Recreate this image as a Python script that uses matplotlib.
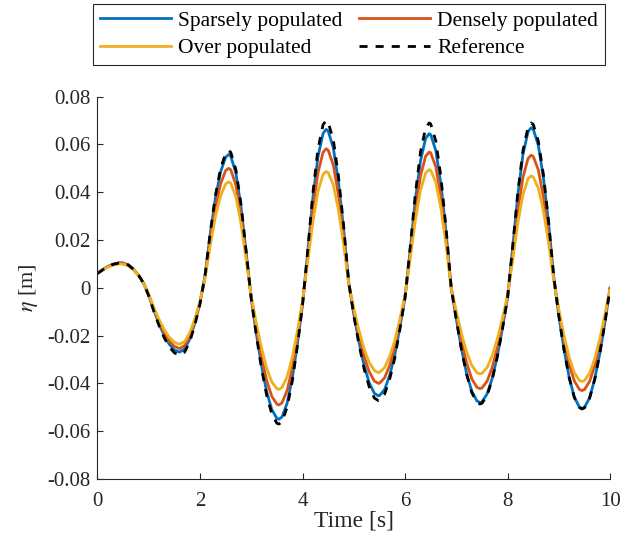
import numpy as np
import matplotlib
matplotlib.use("Agg")
import matplotlib.pyplot as plt

# time samples [s]
t = [0.0, 0.1, 0.2, 0.3, 0.4, 0.45, 0.5, 0.6, 0.7, 0.8, 0.9,
     1.0, 1.1, 1.2, 1.3, 1.4, 1.5, 1.6, 1.7, 1.8, 1.9, 2.0,
     2.1, 2.2, 2.3, 2.4, 2.5, 2.56, 2.6, 2.7, 2.8, 2.9,
     3.0, 3.1, 3.2, 3.3, 3.4, 3.5, 3.54, 3.6, 3.7, 3.8, 3.9, 4.0,
     4.1, 4.2, 4.3, 4.4, 4.46, 4.5, 4.6, 4.7, 4.8, 4.9,
     5.0, 5.1, 5.2, 5.3, 5.4, 5.48, 5.5, 5.6, 5.7, 5.8, 5.9, 6.0,
     6.1, 6.2, 6.3, 6.4, 6.47, 6.5, 6.6, 6.7, 6.8, 6.9,
     7.0, 7.1, 7.2, 7.3, 7.4, 7.46, 7.5, 7.6, 7.7, 7.8, 7.9, 8.0,
     8.1, 8.2, 8.3, 8.4, 8.46, 8.5, 8.6, 8.7, 8.8, 8.9,
     9.0, 9.1, 9.2, 9.3, 9.4, 9.45, 9.5, 9.6, 9.7, 9.8, 9.9, 10.0]

# surface elevation eta [m]
eta_ref = [0.0060, 0.0075, 0.0088, 0.0098, 0.0103, 0.0105, 0.0104, 0.0096, 0.0078, 0.0053, 0.0019,
           -0.0034, -0.0099, -0.0158, -0.0208, -0.0247, -0.0272, -0.0282, -0.0269, -0.0225, -0.0155, -0.0067,
           0.0055, 0.0232, 0.0386, 0.0498, 0.0563, 0.0574, 0.0567, 0.0494, 0.0348, 0.0153,
           -0.0047, -0.0201, -0.0338, -0.0450, -0.0528, -0.0567, -0.0570, -0.0560, -0.0499, -0.0390, -0.0243, -0.0071,
           0.0155, 0.0394, 0.0579, 0.0683, 0.0700, 0.0693, 0.0619, 0.0468, 0.0263, 0.0025,
           -0.0116, -0.0236, -0.0338, -0.0414, -0.0461, -0.0472, -0.0471, -0.0445, -0.0382, -0.0293, -0.0171, -0.0041,
           0.0170, 0.0393, 0.0567, 0.0669, 0.0690, 0.0686, 0.0614, 0.0462, 0.0248, 0.0,
           -0.0134, -0.0258, -0.0362, -0.0438, -0.0479, -0.0486, -0.0483, -0.0450, -0.0384, -0.0288, -0.0171, -0.0040,
           0.0175, 0.0401, 0.0575, 0.0673, 0.0690, 0.0684, 0.0613, 0.0471, 0.0276, 0.0047,
           -0.0119, -0.0258, -0.0375, -0.0458, -0.0501, -0.0507, -0.0502, -0.0461, -0.0383, -0.0274, -0.0143, 0.0]

eta_sparse = [0.0061, 0.0076, 0.0089, 0.0099, 0.0104, 0.0105, 0.0104, 0.0096, 0.0078, 0.0053, 0.0019,
              -0.0032, -0.0094, -0.0151, -0.0199, -0.0236, -0.0260, -0.0269, -0.0256, -0.0215, -0.0147, -0.0063,
              0.0054, 0.0226, 0.0375, 0.0484, 0.0547, 0.0558, 0.0551, 0.0480, 0.0338, 0.0148,
              -0.0046, -0.0194, -0.0326, -0.0435, -0.0509, -0.0547, -0.0550, -0.0540, -0.0482, -0.0377, -0.0234, -0.0069,
              0.0147, 0.0373, 0.0548, 0.0646, 0.0663, 0.0656, 0.0586, 0.0444, 0.0249, 0.0023,
              -0.0111, -0.0226, -0.0324, -0.0397, -0.0441, -0.0452, -0.0451, -0.0426, -0.0366, -0.0280, -0.0164, -0.0039,
              0.0159, 0.0368, 0.0530, 0.0625, 0.0645, 0.0641, 0.0574, 0.0432, 0.0232, 0.0,
              -0.0132, -0.0255, -0.0358, -0.0432, -0.0473, -0.0480, -0.0477, -0.0444, -0.0379, -0.0285, -0.0169, -0.0040,
              0.0170, 0.0389, 0.0559, 0.0654, 0.0670, 0.0664, 0.0596, 0.0458, 0.0268, 0.0046,
              -0.0119, -0.0257, -0.0373, -0.0457, -0.0499, -0.0505, -0.0500, -0.0460, -0.0381, -0.0273, -0.0142, 0.0]

eta_dense = [0.0061, 0.0076, 0.0088, 0.0098, 0.0103, 0.0104, 0.0103, 0.0095, 0.0077, 0.0052, 0.0019,
             -0.0030, -0.0089, -0.0142, -0.0188, -0.0223, -0.0245, -0.0254, -0.0242, -0.0203, -0.0139, -0.0060,
             0.0048, 0.0203, 0.0336, 0.0434, 0.0491, 0.0500, 0.0494, 0.0430, 0.0303, 0.0133,
             -0.0041, -0.0172, -0.0291, -0.0387, -0.0454, -0.0487, -0.0490, -0.0481, -0.0429, -0.0336, -0.0209, -0.0061,
             0.0129, 0.0328, 0.0481, 0.0567, 0.0582, 0.0576, 0.0514, 0.0389, 0.0218, 0.0020,
             -0.0098, -0.0200, -0.0286, -0.0351, -0.0390, -0.0400, -0.0399, -0.0377, -0.0324, -0.0248, -0.0145, -0.0034,
             0.0140, 0.0324, 0.0467, 0.0550, 0.0568, 0.0565, 0.0506, 0.0380, 0.0204, 0.0,
             -0.0116, -0.0224, -0.0314, -0.0380, -0.0416, -0.0422, -0.0419, -0.0391, -0.0333, -0.0250, -0.0149, -0.0035,
             0.0140, 0.0322, 0.0463, 0.0542, 0.0555, 0.0550, 0.0493, 0.0379, 0.0222, 0.0038,
             -0.0101, -0.0219, -0.0318, -0.0389, -0.0425, -0.0430, -0.0426, -0.0391, -0.0325, -0.0233, -0.0121, 0.0]

eta_over = [0.0061, 0.0074, 0.0086, 0.0095, 0.0099, 0.0100, 0.0099, 0.0092, 0.0075, 0.0051, 0.0018,
            -0.0028, -0.0083, -0.0132, -0.0174, -0.0207, -0.0228, -0.0236, -0.0225, -0.0188, -0.0129, -0.0056,
            0.0043, 0.0179, 0.0298, 0.0384, 0.0435, 0.0443, 0.0438, 0.0381, 0.0268, 0.0118,
            -0.0035, -0.0150, -0.0252, -0.0336, -0.0394, -0.0422, -0.0425, -0.0417, -0.0372, -0.0291, -0.0181, -0.0053,
            0.0108, 0.0274, 0.0403, 0.0475, 0.0487, 0.0482, 0.0431, 0.0326, 0.0183, 0.0017,
            -0.0087, -0.0178, -0.0254, -0.0312, -0.0346, -0.0355, -0.0354, -0.0334, -0.0287, -0.0220, -0.0129, -0.0031,
            0.0122, 0.0282, 0.0407, 0.0480, 0.0495, 0.0492, 0.0441, 0.0331, 0.0178, 0.0,
            -0.0099, -0.0191, -0.0268, -0.0324, -0.0355, -0.0360, -0.0358, -0.0333, -0.0284, -0.0213, -0.0127, -0.0030,
            0.0118, 0.0272, 0.0390, 0.0457, 0.0468, 0.0464, 0.0416, 0.0320, 0.0187, 0.0032,
            -0.0092, -0.0200, -0.0290, -0.0354, -0.0388, -0.0392, -0.0388, -0.0357, -0.0296, -0.0212, -0.0111, 0.0]

xticks = [0, 2, 4, 6, 8, 10]
yticks = [-0.08, -0.06, -0.04, -0.02, 0, 0.02, 0.04, 0.06, 0.08]
ytick_labels = ['-0.08', '-0.06', '-0.04', '-0.02', '0', '0.02', '0.04', '0.06', '0.08']

plt.rcParams['font.family'] = ['Liberation Serif', 'DejaVu Serif']
plt.rcParams['mathtext.fontset'] = 'stix'

fig = plt.figure(figsize=(6.29, 5.37), dpi=100)
ax = fig.add_axes([0.155, 0.108, 0.815, 0.712])

dark = '#262626'
lw = 2.0
ax.plot(t, eta_sparse, color='#0072BD', lw=lw, label='Sparsely populated')
ax.plot(t, eta_dense, color='#D95319', lw=lw, label='Densely populated')
ax.plot(t, eta_over, color='#EDB120', lw=lw, label='Over populated')
ax.plot(t, eta_ref, color='black', lw=lw, ls=(0, (2.9, 2.9)), label='Reference')

ax.set_xlim(0, 10)
ax.set_ylim(-0.08, 0.08)
ax.set_xticks(xticks)
ax.set_yticks(yticks)
ax.set_yticklabels(ytick_labels)

for side in ['top', 'right']:
    ax.spines[side].set_visible(False)
for side in ['left', 'bottom']:
    ax.spines[side].set_color(dark)
    ax.spines[side].set_linewidth(0.8)
ax.tick_params(direction='in', length=4, width=0.8, colors=dark, labelsize=15)
ax.tick_params(axis='x', pad=9)
ax.tick_params(axis='y', pad=5)

ax.set_xlabel('Time [s]', fontsize=17, color=dark, labelpad=0)
ax.set_ylabel(r'$\eta$ [m]', fontsize=16, color=dark, labelpad=5)

h, l = ax.get_legend_handles_labels()
order = [0, 2, 1, 3]
leg = fig.legend([h[i] for i in order], [l[i] for i in order],
                 loc='upper left', bbox_to_anchor=(0.148, 0.993),
                 ncol=2, borderaxespad=0, fontsize=15.5,
                 handlelength=3.3, handletextpad=0.33, labelspacing=0.33,
                 columnspacing=0.75, fancybox=False, framealpha=1,
                 borderpad=0.33)
leg.get_frame().set_edgecolor(dark)
leg.get_frame().set_linewidth(0.8)

fig.savefig('out.png', dpi=100)
